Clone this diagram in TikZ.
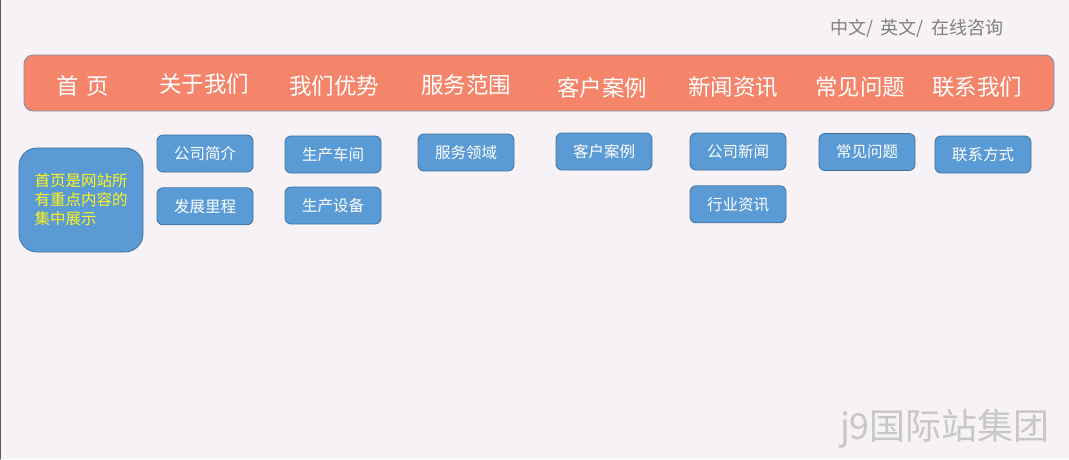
\documentclass[tikz,border=0pt]{standalone}
\usepackage{fontspec}
\setmainfont{Noto Sans CJK SC}
\usetikzlibrary{positioning}
\definecolor{fon}{HTML}{F7F2F6}
\definecolor{losos}{HTML}{F4846A}
\definecolor{ramka}{HTML}{8090AC}
\definecolor{sinij}{HTML}{5B9BD5}
\definecolor{sinramka}{HTML}{41719C}
\tikzstyle{every node}=[font=\fontsize{15.5}{18}\selectfont]
\tikzstyle{every path}=[line width=0.8pt,line cap=round,line join=round]
\tikzstyle{menu}=[text=white,font=\fontsize{22.5}{24}\selectfont]
\tikzstyle{punkt}=[draw=sinramka,fill=sinij,rounded corners=6pt,text=white,
  minimum width=96pt,minimum height=37pt,inner sep=0pt]
\begin{document}
\begin{tikzpicture}[x=1pt,y=-1pt]
\useasboundingbox (0,0) rectangle (1069,459);
\fill[fon] (0,0) rectangle (1069,459);
\draw[gray!70!black,line width=1.2pt] (0.6,0) -- (0.6,459);
%шапка
\node[text=gray,font=\fontsize{18}{18}\selectfont] (yazyk) at (917,28) {中文/\, 英文/\, 在线咨询};
\draw[ramka,fill=losos,rounded corners=9pt] (24,55) rectangle (1054,111);
\node[menu] (glav)   at (83,86)  {首\,\,页};
\node[menu] (onas)   at (204,84) {关于我们};
\node[menu] (plus)   at (334,86) {我们优势};
\node[menu] (uslugi) at (466,85) {服务范围};
\node[menu] (keysy)  at (602,88) {客户案例};
\node[menu] (novosti) at (733,87) {新闻资讯};
\node[menu] (vopros) at (860,87) {常见问题};
\node[menu] (kontakt) at (977,87) {联系我们};
%подменю
\node[draw=sinramka,fill=sinij,rounded corners=18pt,minimum width=124pt,
  minimum height=104pt,text=yellow!90!white,align=left,
  font=\fontsize{15.5}{19}\selectfont] (opis) at (81,200) {首页是网站所\\有重点内容的\\集中展示};
\node[punkt] (onas1) at (205,153.5) {公司简介};
\node[punkt,below=15pt of onas1] (onas2) {发展里程};
\node[punkt] (plus1) at (333,154.5) {生产车间};
\node[punkt] (plus2) at (333,205.5) {生产设备};
\node[punkt] (uslugi1) at (466,152.5) {服务领域};
\node[punkt] (keysy1) at (604,151.5) {客户案例};
\node[punkt] (novosti1) at (738,151.5) {公司新闻};
\node[punkt,below=15pt of novosti1] (novosti2) {行业资讯};
\node[punkt] (vopros1) at (867,152) {常见问题};
\node[punkt] (kontakt1) at (983,154.5) {联系方式};
%водяной знак
\node[text=black!22,font=\fontsize{36}{38}\selectfont] (znak) at (945,429) {j9国际站集团};
\end{tikzpicture}
\end{document}
